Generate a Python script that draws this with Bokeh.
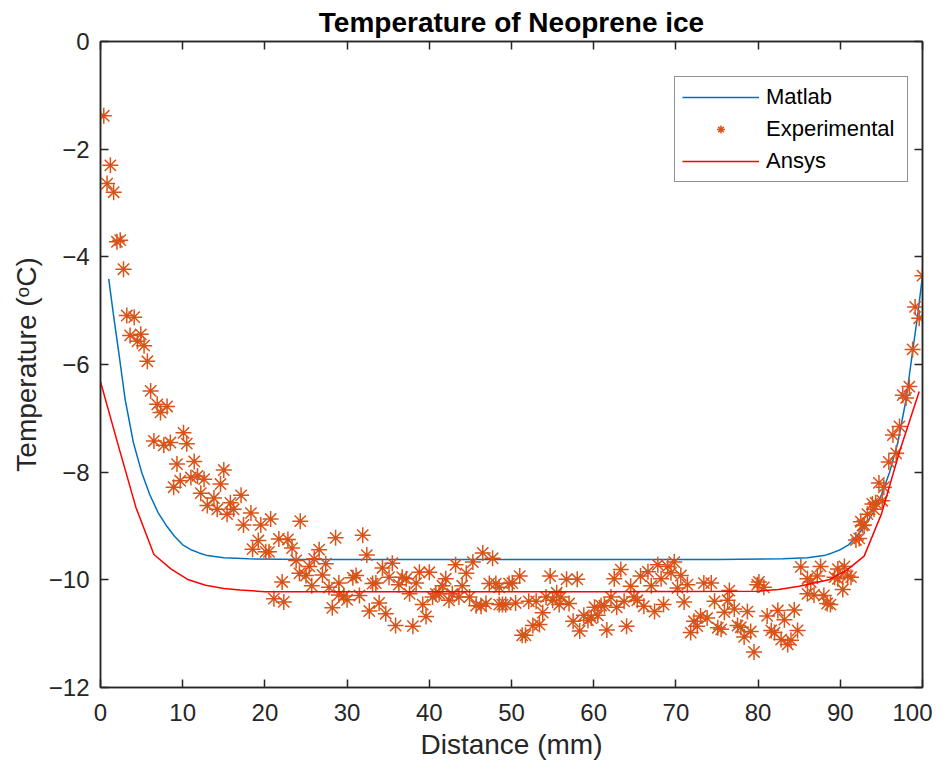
from bokeh.plotting import figure
from bokeh.models import Range1d, LinearAxis, FixedTicker, Legend, LegendItem, CustomJSTickFormatter
from bokeh.embed import file_html
from bokeh.resources import INLINE

title_text = "Temperature of Neoprene ice"
x_label = "Distance (mm)"
y_label = "Temperature (ᵒC)"
x_ticks = [0, 10, 20, 30, 40, 50, 60, 70, 80, 90, 100]
y_ticks = [-12, -10, -8, -6, -4, -2, 0]

matlab_x = [1.0, 1.6, 2.2, 3.0, 4.0, 5.0, 6.0, 7.0, 8.0, 9.0, 10.0, 11.0, 12.0, 13.0, 15.0, 18.0,
            25.0, 40.0, 50.0, 60.0, 75.0, 83.0, 86.0, 88.0, 89.0, 90.0, 91.0, 92.0, 93.0, 94.0,
            95.0, 96.0, 97.0, 98.0, 98.8, 99.4, 100.0]
matlab_y = [-4.41, -5.10, -5.75, -6.65, -7.45, -8.00, -8.42, -8.75, -8.99, -9.19, -9.35, -9.44,
            -9.50, -9.55, -9.59, -9.61, -9.62, -9.62, -9.62, -9.62, -9.62, -9.61, -9.59, -9.55,
            -9.50, -9.44, -9.35, -9.19, -8.99, -8.75, -8.42, -8.00, -7.45, -6.65, -5.75, -5.10, -4.35]

ansys_x = [0.0, 2.1, 4.3, 6.5, 8.6, 10.7, 12.8, 15.0, 17.0, 20.0, 40.0, 60.0, 80.0, 82.5, 85.0,
           88.6, 90.8, 92.9, 95.0, 97.2, 99.6]
ansys_y = [-6.32, -7.47, -8.65, -9.53, -9.80, -10.00, -10.10, -10.16, -10.19, -10.22, -10.22,
           -10.22, -10.21, -10.18, -10.12, -10.00, -9.82, -9.56, -8.78, -7.62, -6.50]

exp_x = [0.4, 1.2, 0.8, 1.6, 2.0, 2.4, 2.8, 3.2, 4.1, 3.6, 4.9, 4.5, 5.3, 5.7, 6.1, 6.9, 8.1, 7.3,
         6.5, 7.7, 8.5, 10.1, 10.5, 9.3, 11.4, 15.0, 9.7, 11.0, 11.8, 12.6, 8.9, 14.6, 12.2, 13.8,
         17.1, 13.0, 14.2, 15.8, 16.2, 15.4, 18.3, 20.7, 24.3, 17.4, 19.5,
         19.2, 18.5, 20.1, 20.5, 21.7, 22.8, 23.3, 26.6, 28.6, 31.9, 32.4, 23.8, 26.0, 25.4, 27.4,
         24.2, 25.0, 27.0, 22.1, 25.7, 27.8, 29.0, 30.7, 31.1, 34.3, 35.5, 35.1, 33.1, 33.5, 36.3,
         36.7, 37.2, 37.6, 38.8, 40.0, 38.4, 21.1, 22.3, 29.0, 29.6, 30.0, 31.5, 28.2, 32.7, 33.9,
         34.7, 35.9, 38.0, 39.6, 39.2, 40.4, 40.8, 41.2, 42.0, 41.6, 42.8, 43.2, 42.4, 43.6, 44.9,
         44.0, 44.5, 45.3, 46.5, 47.7, 45.7, 46.3, 46.9, 47.3, 48.1, 48.5,
         48.5, 49.7, 50.1, 51.0, 48.9, 49.3, 50.5, 52.1, 53.0, 53.8, 52.6, 53.4, 51.3, 51.7, 54.7,
         54.2, 55.0, 55.5, 56.0, 55.8, 57.0, 56.7, 58.0, 57.5, 58.3, 58.8, 59.3, 59.7, 60.1, 60.5,
         60.9, 61.3, 61.6, 62.1, 62.5, 63.3, 62.8, 64.0, 63.7, 64.5, 64.9, 65.3, 65.7, 66.6, 67.0,
         66.1, 67.4, 68.5, 67.8, 68.2, 69.0, 69.4, 69.8, 70.6, 70.2, 71.4, 71.0, 71.8, 72.2, 72.6,
         73.0, 73.8, 73.4, 74.3, 74.7, 75.9, 76.3, 75.1, 75.5, 76.5,
         77.1, 77.5, 77.9, 78.3, 79.1, 78.7, 79.5, 80.1, 80.7, 79.9, 81.1, 82.4, 81.6, 83.2, 82.0,
         82.8, 83.6, 84.0, 84.4, 84.8, 85.2, 86.4, 86.0, 87.2, 86.8, 86.0, 88.0, 88.4, 88.8, 87.6,
         89.7, 90.5, 89.3, 89.7, 90.3, 91.3, 90.9, 91.9, 92.3, 92.7, 92.9, 92.5, 93.3, 94.1, 93.9,
         94.3, 94.7, 95.3, 95.1,
         100.0, 99.1, 99.6, 98.8, 97.6, 98.0, 98.4, 97.2, 96.4, 96.8, 95.9]
exp_y = [-1.38, -2.30, -2.64, -2.80, -3.72, -3.69, -4.23, -5.09, -5.12, -5.46, -5.44, -5.57, -5.65,
         -5.94, -6.49, -6.74, -6.78, -6.89, -7.42, -7.50, -7.45, -7.27, -7.47, -7.85, -7.80, -7.96,
         -8.16, -8.10, -8.07, -8.13, -8.28, -8.22, -8.39, -8.48, -8.43, -8.62, -8.69, -8.57, -8.69,
         -8.78, -8.76, -8.87, -8.91, -8.98, -8.98,
         -9.27, -9.43, -9.48, -9.48, -9.24, -9.25, -9.41, -9.44, -9.22, -9.17, -9.54, -9.64, -9.61,
         -9.75, -9.70, -9.88, -9.92, -9.91, -10.04, -10.11, -10.14, -10.06, -9.96, -9.92, -9.78,
         -9.69, -9.95, -10.07, -10.06, -10.09, -9.95, -9.98, -10.26, -9.86, -9.86, -10.06, -10.35,
         -10.41, -10.28, -10.30, -10.37, -10.29, -10.52, -10.58, -10.43, -10.63, -10.85, -10.86,
         -10.68, -10.46, -10.32, -10.26, -10.26, -9.98, -10.11, -10.26, -9.72, -10.38, -10.32,
         -10.32, -10.11, -9.88, -9.67, -9.50, -9.60, -10.48, -10.49, -10.44, -10.07, -10.07, -10.46,
         -10.14, -10.07, -10.06, -9.93, -10.46, -10.46, -10.43, -10.40, -10.40, -10.61, -10.85,
         -10.83, -11.03, -11.03, -9.93, -10.32, -10.38, -10.24, -10.32, -10.46, -10.44, -9.99,
         -9.99, -10.77, -10.95, -10.66, -10.75, -10.71, -10.51, -10.66, -10.48, -10.48, -10.93,
         -10.32, -9.98, -9.81, -10.51, -10.86, -10.40, -10.12, -10.32, -10.38, -9.93, -9.85, -10.11,
         -10.49, -10.59, -10.46, -9.72, -9.98, -9.75, -9.87, -9.67, -9.92, -10.15, -10.09, -10.41,
         -10.98, -10.77, -10.86, -10.67, -10.71, -10.06, -10.06, -10.40, -10.60, -10.38, -10.89,
         -10.92, -10.20,
         -10.54, -10.85, -10.88, -11.06, -10.96, -10.59, -11.34, -10.04, -10.14, -10.09, -10.67,
         -10.57, -10.94, -10.74, -10.98, -11.11, -11.20, -11.12, -10.56, -10.94, -9.76, -10.04,
         -9.98, -9.93, -10.28, -10.26, -10.29, -10.44, -10.46, -9.75, -9.80, -9.75, -9.95, -9.98,
         -10.18, -9.95, -9.93, -9.26, -9.23, -8.99, -8.98, -8.92, -8.78, -8.69, -8.59, -8.57, -8.20,
         -8.28, -8.53,
         -4.35, -4.93, -5.14, -5.72, -6.57, -6.62, -6.41, -7.15, -7.31, -7.65, -7.81]

AX = "#262626"
FONT = "Liberation Sans"

p = figure(width=932, height=765, output_backend="svg", toolbar_location=None,
           x_range=Range1d(0, 100), y_range=Range1d(-12, 0),
           min_border_left=100, min_border_right=10, min_border_top=41, min_border_bottom=78,
           title=title_text)
p.background_fill_color = "white"
p.border_fill_color = "white"
p.outline_line_color = AX
p.outline_line_width = 1.5
p.xgrid.visible = False
p.ygrid.visible = False

p.title.align = "center"
p.title.text_font = FONT
p.title.text_font_size = "28px"
p.title.text_font_style = "bold"
p.title.text_color = "black"
p.title.standoff = 7

for ax, ticks in ((p.xaxis[0], x_ticks), (p.yaxis[0], y_ticks)):
    ax.ticker = FixedTicker(ticks=ticks)
    ax.major_tick_in = 8
    ax.major_tick_out = 0
    ax.minor_tick_in = 0
    ax.minor_tick_out = 0
    ax.axis_line_color = AX
    ax.axis_line_width = 1.5
    ax.major_tick_line_color = AX
    ax.major_tick_line_width = 1.5
    ax.major_label_text_font = FONT
    ax.major_label_text_font_size = "24px"
    ax.major_label_text_color = AX
    ax.axis_label_text_font = FONT
    ax.axis_label_text_font_size = "28px"
    ax.axis_label_text_font_style = "normal"
    ax.axis_label_text_color = AX

p.xaxis[0].axis_label = x_label
p.yaxis[0].axis_label = y_label
p.xaxis[0].major_label_standoff = 16
p.xaxis[0].axis_label_standoff = 5
p.yaxis[0].major_label_standoff = 11
p.yaxis[0].axis_label_standoff = 4

blank = CustomJSTickFormatter(code="return '';")
for loc, ticks in (("above", x_ticks), ("right", y_ticks)):
    a = LinearAxis(ticker=FixedTicker(ticks=ticks), formatter=blank,
                   major_tick_in=8, major_tick_out=0, minor_tick_in=0, minor_tick_out=0,
                   axis_line_color=AX, axis_line_width=1.5,
                   major_tick_line_color=AX, major_tick_line_width=1.5,
                   major_label_text_font_size="0px", major_label_standoff=0)
    p.add_layout(a, loc)

r_m = p.line(matlab_x, matlab_y, line_color="#0072BD", line_width=1.5)
r_e = p.scatter(exp_x, exp_y, marker="asterisk", size=16, line_color="#D95319", line_width=1.5)
r_a = p.line(ansys_x, ansys_y, line_color="#FF0000", line_width=1.5)

legend = Legend(items=[LegendItem(label="Matlab", renderers=[r_m]),
                       LegendItem(label="Experimental", renderers=[r_e]),
                       LegendItem(label="Ansys", renderers=[r_a])],
                location=(574, 505))
legend.border_line_color = AX
legend.border_line_width = 1
legend.background_fill_color = "white"
legend.background_fill_alpha = 1.0
legend.label_text_font = FONT
legend.label_text_font_size = "22px"
legend.label_text_color = "black"
legend.glyph_width = 77
legend.glyph_height = 20
legend.label_height = 20
legend.label_width = 134
legend.spacing = 6
legend.padding = 7
legend.margin = 0
legend.label_standoff = 7
p.add_layout(legend)

open("out.html", "w").write(file_html(p, INLINE))
